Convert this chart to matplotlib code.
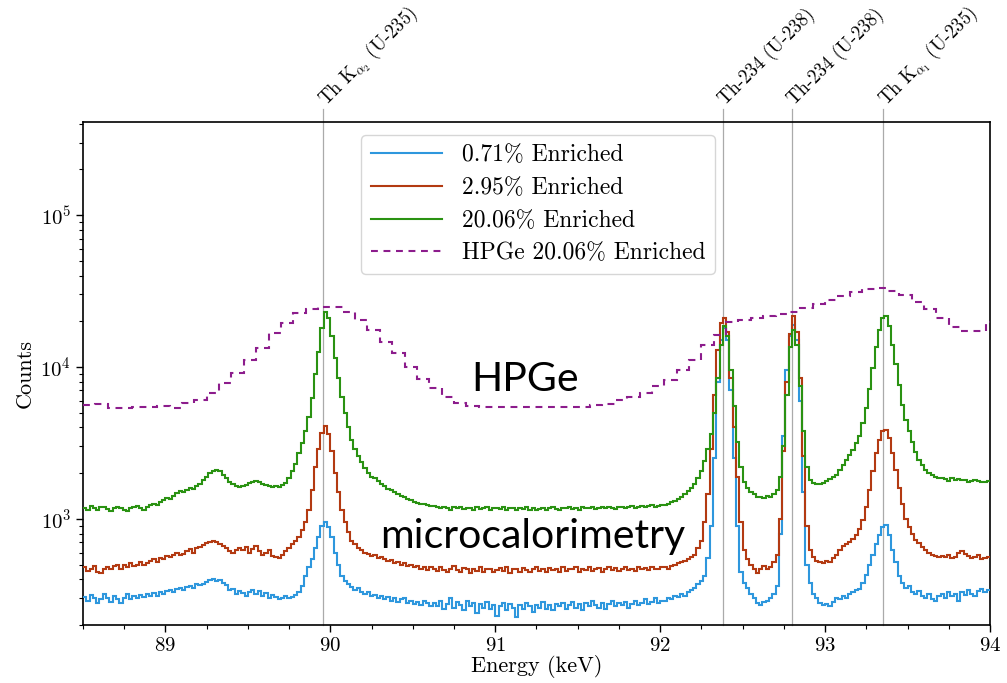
import numpy as np
import matplotlib
matplotlib.use("Agg")
import matplotlib.pyplot as plt
from matplotlib.ticker import LogLocator, MultipleLocator, NullFormatter
import matplotlib.transforms as mtransforms

plt.rcParams['font.family'] = 'serif'
plt.rcParams['font.serif'] = ['cmr10']
plt.rcParams['mathtext.fontset'] = 'cm'
plt.rcParams['axes.formatter.use_mathtext'] = True
plt.rcParams['axes.unicode_minus'] = False

# ---------------- data ----------------
micro_bin_start = 88.5
micro_bin_width = 0.02   # keV
hpge_bin_start = 88.5
hpge_bin_width = 0.075   # keV

green_206 = [
    1180, 1150, 1210, 1170, 1140, 1190, 1200, 1160, 1130, 1170, 1200, 1180, 1150, 1120, 1170, 1190, 1210, 1180, 1150, 1200, 1230,
    1260, 1240, 1300, 1330, 1380, 1350, 1420, 1480, 1530, 1510,
    1560, 1600, 1580, 1640, 1700,
    1800, 1900, 2000, 2080, 2100, 2050, 1950,
    1850, 1760, 1700, 1650, 1620, 1640,
    1680, 1720, 1760, 1780, 1750, 1700, 1660, 1640, 1620,
    1640, 1620, 1660, 1720, 1850,
    2050, 2300, 2700, 3150,
    3800, 4700, 6200, 9000,
    12500, 18000, 23000, 21000, 16000, 11500, 8500, 6300, 5000, 4000,
    3300, 2900, 2600, 2350, 2150, 2000, 1900, 1850, 1780, 1700,
    1640, 1580, 1540, 1500, 1460, 1420, 1390, 1360, 1330, 1300,
    1280, 1260, 1250, 1230, 1220,
    1210, 1190, 1170, 1200, 1180, 1150, 1190, 1170, 1200, 1160,
    1180, 1170, 1140, 1190, 1160, 1180, 1200, 1150, 1170, 1180,
    1160, 1190, 1150, 1170, 1180, 1140, 1170, 1160, 1190, 1150,
    1170, 1140, 1160, 1180, 1150, 1170, 1190, 1160, 1150, 1180,
    1170, 1200, 1160, 1180, 1150, 1190, 1170, 1180, 1200, 1160,
    1180, 1190, 1170, 1200, 1180, 1160, 1190, 1200, 1170, 1190,
    1210, 1180, 1200, 1220, 1190, 1210, 1230, 1200, 1220, 1240,
    1240, 1260, 1290, 1310, 1350,
    1400, 1450, 1520, 1600, 1700,
    1850, 2050, 2400, 2900, 3600,
    5000, 8500, 14000, 18500, 16000, 9500, 5500, 3200, 2200, 1750,
    1600, 1500, 1450, 1400, 1400, 1380, 1420, 1400, 1450, 1550,
    1900, 3000, 6500, 13500, 17500, 14000, 7500, 3800, 2200, 1800,
    1720, 1700, 1690, 1720, 1780, 1820, 1880, 1950, 2100, 2250,
    2450, 2650, 2850, 3150, 3500, 4300, 5400, 7200, 9800, 13500,
    17500, 21000, 21500, 18500, 14000, 10500, 7600, 5600, 4500, 3800,
    3200, 2750, 2450, 2250, 2100, 2000, 1950, 1900, 1870, 1850,
    1820, 1780, 1850, 1800, 1830, 1790, 1800, 1760, 1780, 1800, 1770, 1750, 1760, 1770,
]

red_295 = [
    480, 455, 470, 490, 450, 440, 470, 485, 465, 490, 500, 470, 495, 480, 510, 490, 500, 520, 495, 510, 530,
    540, 520, 555, 545, 570, 560, 580, 600, 575, 590,
    610, 630, 600, 640, 650,
    670, 690, 700, 710, 700, 680, 660,
    640, 610, 600, 620, 640, 620,
    650, 600, 630, 660, 610, 580, 600, 620, 570,
    560, 550, 580, 610, 640,
    680, 720, 760, 850,
    950, 1150, 1550, 2200,
    2900, 3700, 4100, 3600, 2800, 2000, 1500, 1150, 950, 820,
    720, 680, 640, 620, 600, 590, 570, 580, 555, 560,
    540, 530, 535, 510, 520, 500, 510, 490, 500, 480,
    490, 470, 485, 460, 480,
    470, 455, 480, 460, 445, 470, 490, 460, 450, 475,
    465, 440, 470, 455, 480, 450, 465, 470, 445, 460,
    475, 455, 480, 440, 465, 470, 450, 475, 460, 445,
    470, 480, 455, 465, 450, 475, 460, 470, 445, 480,
    455, 470, 465, 485, 450, 470, 460, 480, 455, 465,
    475, 450, 470, 485, 460, 475, 455, 470, 480, 460,
    470, 455, 480, 465, 475, 460, 485, 470, 465, 480,
    480, 470, 490, 500, 510,
    520, 530, 545, 560, 580,
    640, 720, 950, 1450, 2900,
    6500, 13000, 19500, 21000, 17000, 8500, 4000, 1900, 950, 620,
    540, 500, 470, 440, 470, 490, 470, 480, 520, 580,
    1000, 2800, 8000, 16500, 21500, 17000, 8500, 2600, 900, 620,
    560, 530, 520, 510, 530, 520, 550, 580, 620, 660,
    680, 700, 740, 780, 860, 980, 1200, 1550, 2050, 2700,
    3300, 3800, 3850, 3400, 2700, 2100, 1600, 1250, 1000, 880,
    800, 730, 690, 650, 620, 600, 580, 570, 560, 570,
    560, 580, 550, 560, 600, 610, 590, 570, 550, 560, 580, 540, 550, 560,
]

blue_071 = [
    305, 290, 315, 300, 280, 295, 320, 300, 285, 310, 295, 280, 300, 320, 295, 310, 300, 315, 305, 320, 310,
    325, 310, 330, 320, 335, 340, 330, 345, 350, 340,
    355, 360, 350, 370, 365,
    375, 385, 395, 400, 390, 395, 380,
    365, 340, 345, 320, 335, 325,
    310, 330, 340, 320, 335, 310, 325, 300, 315,
    305, 295, 300, 310, 300,
    305, 315, 330, 360,
    420, 480, 540, 640,
    760, 900, 960, 880, 760, 600, 500, 420, 390, 370,
    355, 340, 350, 330, 320, 330, 310, 315, 300, 310,
    295, 305, 290, 300, 285, 295, 300, 280, 290, 275,
    285, 270, 290, 280, 265,
    280, 265, 290, 255, 275, 300, 260, 285, 270, 250,
    290, 265, 280, 240, 275, 260, 285, 255, 270, 230,
    265, 280, 250, 275, 260, 225, 270, 255, 280, 265,
    245, 270, 260, 285, 255, 270, 250, 275, 265, 280,
    255, 270, 285, 260, 275, 250, 280, 265, 290, 270,
    260, 280, 255, 275, 290, 265, 280, 270, 285, 260,
    275, 290, 270, 280, 295, 275, 285, 300, 280, 290,
    290, 300, 295, 310, 305,
    320, 310, 330, 340, 350,
    370, 390, 420, 550, 900,
    2500, 8000, 15000, 18000, 15000, 7000, 2500, 900, 450, 380,
    350, 320, 300, 280, 270, 285, 290, 300, 320, 360,
    800, 3500, 9500, 16000, 19000, 15000, 6000, 1500, 500, 380,
    320, 300, 280, 270, 275, 265, 285, 300, 295, 310,
    300, 320, 330, 340, 345, 380, 430, 500, 580, 680,
    780, 880, 910, 780, 620, 520, 420, 380, 350, 360,
    330, 320, 335, 310, 300, 320, 295, 290, 310, 320,
    300, 330, 310, 320, 290, 330, 315, 340, 320, 310, 335, 345, 330, 340,
]

hpge_206 = [
    5600, 5700, 5370, 5400, 5460, 5460, 5530, 5400, 5800, 6050,
    6750, 7850, 9140, 11100, 13300, 16700, 19400, 22600, 24100, 24800,
    24800, 23000, 20400, 17500, 14600, 12300, 10000, 8300, 7280, 6350,
    5800, 5530, 5460, 5460, 5460, 5460, 5460, 5460, 5460, 5460,
    5460, 5620, 5700, 6070, 6350, 6750, 7500, 8200, 9550, 11100,
    13950, 16200, 19700, 20400, 21000, 21600, 22300, 23000, 24500, 26000,
    27600, 29300, 31000, 32500, 33000, 31600, 29800, 26800, 24100, 21000,
    18300, 17200, 17200, 19700,
]

line_energies = [89.953, 92.38, 92.80, 93.35]
line_labels = [r'Th K$_{\alpha_2}$ (U-235)', 'Th-234 (U-238)',
               'Th-234 (U-238)', r'Th K$_{\alpha_1}$ (U-235)']

series_labels = ['0.71% Enriched', '2.95% Enriched', '20.06% Enriched',
                 'HPGe 20.06% Enriched']
colors = ['#2E97DD', '#B33A12', '#2A9212', '#8C1C8C']

# ---------------- plot ----------------
fig = plt.figure(figsize=(10.07, 6.83), dpi=100)
ax = fig.add_axes([0.0824, 0.0849, 0.9007, 0.7365])

micro_edges = micro_bin_start + micro_bin_width * np.arange(len(blue_071) + 1)
hpge_edges = hpge_bin_start + hpge_bin_width * np.arange(len(hpge_206) + 1)

ax.stairs(blue_071, micro_edges, baseline=None, color=colors[0], lw=1.5,
          label=series_labels[0], zorder=3)
ax.stairs(red_295, micro_edges, baseline=None, color=colors[1], lw=1.5,
          label=series_labels[1], zorder=3)
ax.stairs(green_206, micro_edges, baseline=None, color=colors[2], lw=1.5,
          label=series_labels[2], zorder=3)
ax.stairs(hpge_206, hpge_edges, baseline=None, color=colors[3], lw=1.5,
          linestyle=(0, (3.3, 2.7)), label=series_labels[3], zorder=3)

ax.set_yscale('log')
ax.set_xlim(88.5, 94.0)
ax.set_ylim(200, 4.1e5)

trans = mtransforms.blended_transform_factory(ax.transData, ax.transAxes)
offset = mtransforms.ScaledTranslation(2 / 72, 0, fig.dpi_scale_trans)
for e, lab in zip(line_energies, line_labels):
    ax.plot([e, e], [0, 1.025], transform=trans, color='#aaaaaa', lw=0.9,
            zorder=1, clip_on=False)
    ax.text(e, 1.033, lab, transform=trans + offset, rotation=45, ha='left',
            va='baseline', rotation_mode='anchor', fontsize=13.5)

ax.xaxis.set_major_locator(MultipleLocator(1))
ax.xaxis.set_minor_locator(MultipleLocator(0.25))
ax.yaxis.set_major_locator(LogLocator(base=10))
ax.yaxis.set_minor_locator(LogLocator(base=10, subs=np.arange(2, 10)))
ax.yaxis.set_minor_formatter(NullFormatter())
ax.tick_params(which='both', direction='out', labelsize=15, top=False, right=False)
ax.tick_params(which='major', length=5, width=1)
ax.tick_params(which='minor', length=3, width=0.8)
for s in ax.spines.values():
    s.set_linewidth(1.2)

ax.set_xlabel('Energy (keV)', fontsize=16, labelpad=0)
ax.set_ylabel('Counts', fontsize=16)

ax.text(91.18, 8300, 'HPGe', family='Lato', fontsize=29.5, ha='center',
        va='center', zorder=5)
ax.text(91.23, 760, 'microcalorimetry', family='Lato', fontsize=29.5,
        ha='center', va='center', zorder=5)

leg = ax.legend(loc='upper center', bbox_to_anchor=(0.5017, 0.998), fontsize=17,
                handlelength=3.0, borderpad=0.4, labelspacing=0.45,
                handletextpad=0.85, framealpha=0.8)

fig.savefig('out.png', dpi=100)
